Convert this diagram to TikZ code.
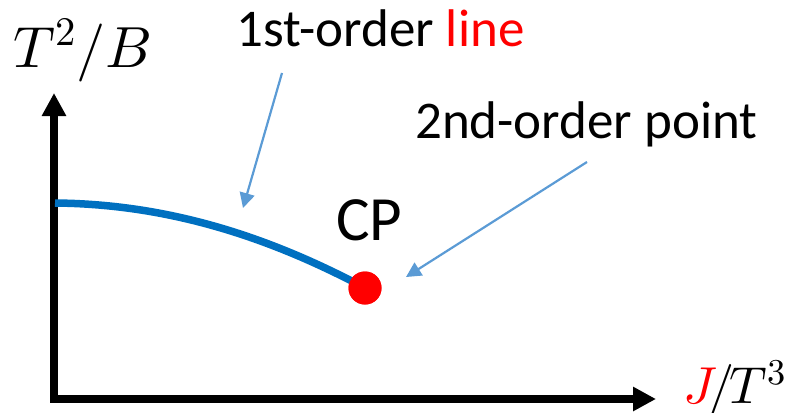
\documentclass[tikz,border=0pt]{standalone}
\usepackage{fontspec}
\usepackage{unicode-math}
\setmainfont{Carlito}
\setmathfont{Latin Modern Math}
\usetikzlibrary{arrows.meta}
\definecolor{curveblue}{HTML}{0070C0}
\definecolor{pointerblue}{HTML}{5B9BD5}
\definecolor{cpred}{HTML}{FF0000}
\tikzset{
  axis/.style={line width=7.5pt, miter limit=10,
    {Triangle[length=23pt,width=23pt]}-{Triangle[length=23pt,width=23pt]}},
  label/.style={inner sep=0pt, anchor=base west, font=\fontsize{53}{53}\selectfont},
  mathlabel/.style={inner sep=0pt, anchor=base west, font=\fontsize{58}{58}\selectfont},
  pointer/.style={pointerblue, line width=2.2pt, -{Triangle[length=15pt,width=15pt]}},
  transition/.style={curveblue, line width=7.5pt},
  critical/.style={circle, fill=cpred, minimum size=33pt, inner sep=0pt}
}
\begin{document}
\begin{tikzpicture}[x=1pt,y=-1pt]
  \useasboundingbox (0,0) rectangle (789,412);
  % axes
  \coordinate (ytip) at (54,93);
  \coordinate (origin) at (54,399);
  \coordinate (xtip) at (656,399);
  \draw[axis] (ytip) -- (origin) -- (xtip);
  % axis labels
  \node[mathlabel] (ylab) at (13,67) {$T^2/B$};
  \node[mathlabel, anchor=base east, font=\fontsize{52}{52}\selectfont] (xlab) at (786,403)
    {$\textcolor{cpred}{J}\mkern-3mu/\mkern-2mu T^{3}$};
  % first-order line ending at the critical point
  \coordinate (lstart) at (55,203);
  \node[critical] (cp) at (365,288) {};
  \draw[transition] (lstart) .. controls (160,204) and (260,232) .. (cp.center);
  \node[critical] at (cp.center) {};
  \node[label, font=\fontsize{63}{63}\selectfont] (cplab) at (336,240) {CP};
  % annotations
  \node[label] (firstlab) at (236,47) {1st-order \textcolor{cpred}{line}};
  \node[label] (secondlab) at (415,138) {2nd-order point};
  \coordinate (p1s) at (282,73);
  \coordinate (p1e) at (243,208);
  \coordinate (p2s) at (587,162);
  \coordinate (p2e) at (406,277);
  \draw[pointer] (p1s) -- (p1e);
  \draw[pointer] (p2s) -- (p2e);
\end{tikzpicture}
\end{document}
